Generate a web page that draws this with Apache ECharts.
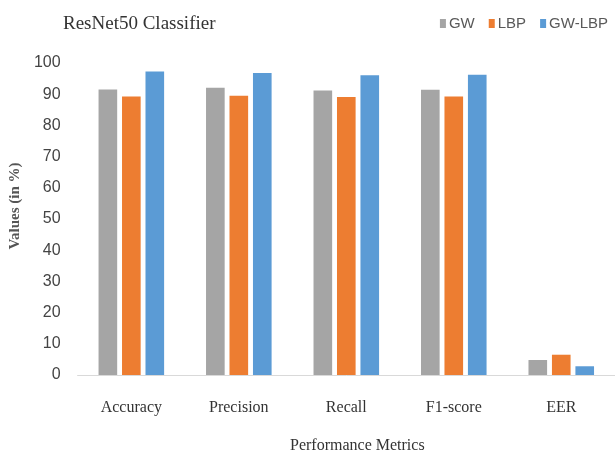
<!DOCTYPE html>
<html>
<head>
<meta charset="utf-8">
<script src="https://cdn.jsdelivr.net/npm/echarts@6/dist/echarts.min.js"></script>
<style>
html, body { margin: 0; padding: 0; background: #fff; }
#chart { width: 615px; height: 459px; }
</style>
</head>
<body>
<div id="chart"></div>
<script>
// data
const metrics = ['Accuracy', 'Precision', 'Recall', 'F1-score', 'EER']
const gwValues = [91.5, 92.1, 91.2, 91.4, 4.8]
const lbpValues = [89.3, 89.5, 89.1, 89.3, 6.5]
const gwLbpValues = [97.3, 96.8, 96.1, 96.2, 2.8]
const seriesNames = ['GW', 'LBP', 'GW-LBP']

const serif = 'Liberation Serif, Times New Roman, serif'
const narrow = 'Liberation Sans Narrow, Liberation Sans, sans-serif'

const chart = echarts.init(document.getElementById('chart'))

const makeBar = (name, data, color) => ({
  name: name,
  type: 'bar',
  data: data,
  barGap: '26%',
  barCategoryGap: '39%',
  itemStyle: { color: color },
  emphasis: { disabled: true }
})

const option = {
  backgroundColor: '#fff',
  animation: false,
  title: {
    text: 'ResNet50 Classifier',
    left: 58,
    top: 10,
    textStyle: {
      fontFamily: serif,
      fontWeight: 'normal',
      fontSize: 19,
      color: '#333'
    }
  },
  legend: {
    data: seriesNames,
    right: 2,
    top: 11,
    itemWidth: 6,
    itemHeight: 9,
    itemGap: 14,
    icon: 'rect',
    textStyle: {
      fontFamily: narrow,
      fontSize: 15,
      color: '#595959',
      padding: [0, 0, 0, -2]
    }
  },
  grid: {
    left: 72,
    right: -17,
    top: 63,
    bottom: 76,
    containLabel: false
  },
  xAxis: {
    type: 'category',
    data: metrics,
    name: 'Performance Metrics',
    nameLocation: 'middle',
    nameGap: 63,
    nameTextStyle: {
      fontFamily: serif,
      fontSize: 16,
      color: '#333',
      padding: [0, 0, 0, 22]
    },
    axisTick: { show: false },
    axisLine: { lineStyle: { color: '#D9D9D9', width: 1 } },
    axisLabel: {
      fontFamily: serif,
      fontSize: 16,
      color: '#333',
      margin: 25
    }
  },
  yAxis: {
    type: 'value',
    min: 0,
    max: 100,
    interval: 10,
    name: 'Values (in %)',
    nameLocation: 'middle',
    nameGap: 45,
    nameRotate: 90,
    nameTextStyle: {
      fontFamily: serif,
      fontWeight: 'bold',
      fontSize: 15,
      color: '#555',
      padding: [0, 0, 0, 26]
    },
    splitLine: { show: false },
    axisLine: { show: false },
    axisTick: { show: false },
    axisLabel: {
      fontFamily: narrow,
      fontSize: 16,
      color: '#444',
      margin: 17
    }
  },
  series: [
    makeBar(seriesNames[0], gwValues, '#A5A5A5'),
    makeBar(seriesNames[1], lbpValues, '#ED7D31'),
    makeBar(seriesNames[2], gwLbpValues, '#5B9BD5')
  ]
}

chart.setOption(option)
</script>
</body>
</html>
